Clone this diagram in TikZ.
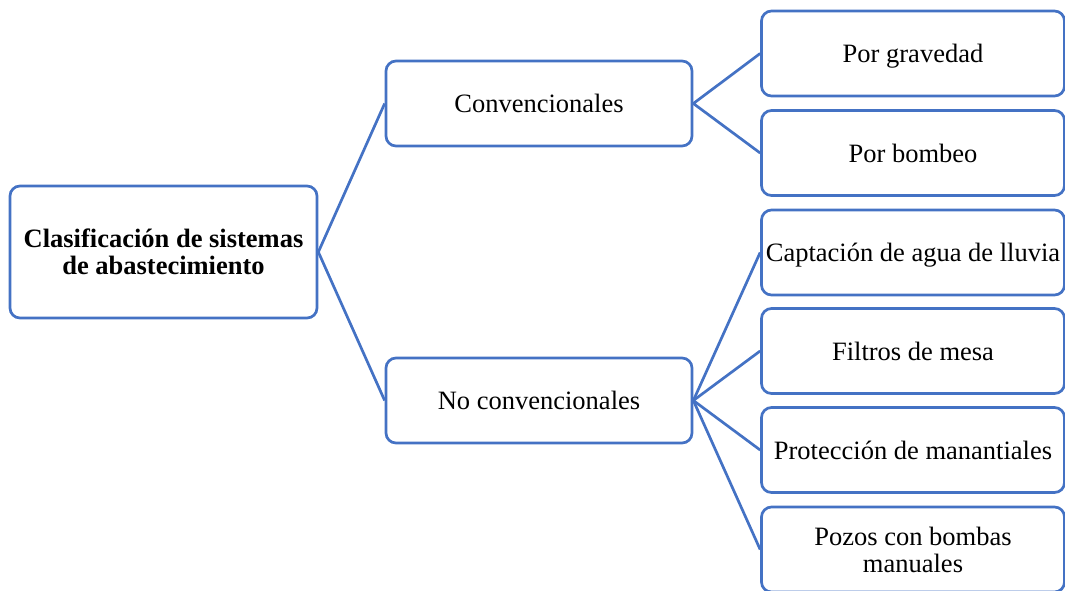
\documentclass[tikz,border=0pt]{standalone}
\usepackage{fontspec}
\setmainfont{Liberation Serif}
\usetikzlibrary{positioning}
\definecolor{azul}{HTML}{4472C4}

\begin{document}
\begin{tikzpicture}[x=1pt, y=-1pt,
    caja/.style={draw=azul, line width=2.7pt, rounded corners=10pt, align=center,
        inner sep=0pt, minimum width=303pt, minimum height=85pt,
        font=\fontsize{26.5}{27}\selectfont},
    linea/.style={caja, text height=18pt, text depth=0pt},
    enlace/.style={draw=azul, line width=2.7pt}]
                \useasboundingbox (0,0) rectangle (1065,590);
                \clip (0,0) rectangle (1065,590);
                % raiz
                \node[caja, minimum width=307pt, minimum height=132pt, font=\fontsize{26.5}{27}\selectfont\bfseries]
                    (clas) at (163.5,252) {Clasificación de sistemas\\de abastecimiento};
                % segundo nivel
                \node[linea, minimum width=306pt] (conv) at (539,103.5) {Convencionales};
                \node[linea, minimum width=306pt] (noconv) at (539,400.5) {No convencionales};
                % tercer nivel
                \node[linea] (grav) at (913,53.5) {Por gravedad};
                \node[linea] (bomb) at (913,153) {Por bombeo};
                \node[linea] (lluv) at (913,252.5) {Captación de agua de lluvia};
                \node[linea] (filt) at (913,351) {Filtros de mesa};
                \node[linea] (mana) at (913,450) {Protección de manantiales};
                \node[caja] (pozo) at (913,549.5) {Pozos con bombas\\manuales};
                % conectores
                \draw[enlace] (conv.west) -- (clas.east) -- (noconv.west);
                \draw[enlace] (grav.west) -- (conv.east) -- (bomb.west);
                \draw[enlace] (noconv.east) -- (lluv.west);
                \draw[enlace] (noconv.east) -- (filt.west);
                \draw[enlace] (noconv.east) -- (mana.west);
                \draw[enlace] (noconv.east) -- (pozo.west);
            \end{tikzpicture}
\end{document}
